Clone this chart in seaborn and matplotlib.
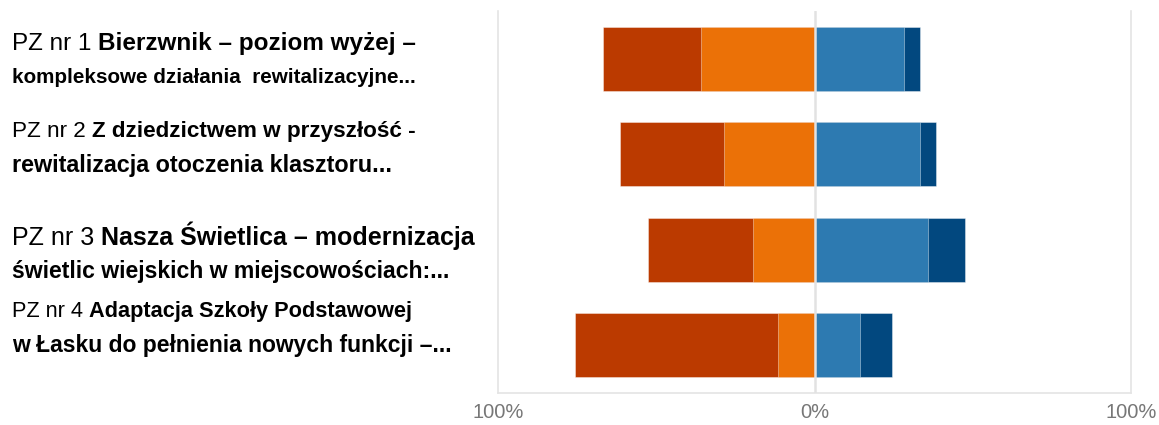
"""Diverging stacked bar chart of opinions on the PZ projects."""


# Import libraries
import matplotlib
matplotlib.use('Agg')
import matplotlib.pyplot as plt
from matplotlib import font_manager
import pandas as pd
import seaborn as sns


# Data (% of answers)
projects = ['PZ nr 1', 'PZ nr 2', 'PZ nr 3', 'PZ nr 4']
strongly_neg = [30.7, 33.0, 33.0, 64.3]
neg = [36.0, 28.5, 19.5, 11.4]
pos = [28.3, 33.3, 36.0, 14.4]
strongly_pos = [5.0, 5.1, 11.4, 10.0]

tick_values = [-100, 0, 100]
tick_labels = ['100%', '0%', '100%']

# Category labels: lines made of (text, bold) pieces
label_lines = [
    [[('PZ nr 1', False), ('Bierzwnik – poziom wyżej –', True)],
     [('kompleksowe działania  rewitalizacyjne...', True)]],
    [[('PZ nr 2', False), ('Z dziedzictwem w przyszłość -', True)],
     [('rewitalizacja otoczenia klasztoru...', True)]],
    [[('PZ nr 3', False), ('Nasza Świetlica – modernizacja', True)],
     [('świetlic wiejskich w miejscowościach:...', True)]],
    [[('PZ nr 4', False), ('Adaptacja Szkoły Podstawowej', True)],
     [('w Łasku do pełnienia nowych funkcji –...', True)]],
]

# Layout of the label lines in pixels: baseline y and right end x
line_baselines = [50, 83, 137, 172, 245, 278, 317, 352]
line_ends = [415, 415, 415, 392, 512, 450, 412, 452]

colors = {'strongly_neg': '#BB3A00', 'neg': '#EB7107',
          'pos': '#2D7AB1', 'strongly_pos': '#02487F'}


sns.set_style('white')
plt.rcParams['font.family'] = ['Liberation Sans', 'DejaVu Sans']
installed = {f.name for f in font_manager.fontManager.ttflist}
narrow_font = 'Liberation Sans Narrow' if 'Liberation Sans Narrow' in installed else None

df = pd.DataFrame({'project': projects,
                   'left_total': [-(a + b) for a, b in zip(strongly_neg, neg)],
                   'left_inner': [-b for b in neg],
                   'right_total': [a + b for a, b in zip(pos, strongly_pos)],
                   'right_inner': pos})

fig = plt.figure(figsize=(11.59, 4.25), dpi=100)
ax = fig.add_axes([498 / 1159, 32 / 425, 633 / 1159, 382 / 425])

# Overlapping bars build the stacks: totals first, inner parts on top
edge = (1, 1, 1, 0.45)
for col, key in [('left_total', 'strongly_neg'), ('left_inner', 'neg'),
                 ('right_total', 'strongly_pos'), ('right_inner', 'pos')]:
    sns.barplot(data=df, x=col, y='project', order=projects, color=colors[key],
                width=0.667, edgecolor=edge, linewidth=0.6, saturation=1, ax=ax)

ax.axvline(0, color='#e2e2e2', lw=1.8, zorder=5)
ax.set_xlim(-100, 100)
ax.set_ylim(3.5, -0.5)
ax.set_xlabel('')
ax.set_ylabel('')
ax.set_yticks([])
ax.set_xticks(tick_values)
ax.set_xticklabels(tick_labels, fontsize=14.5, color='#777777')
ax.tick_params(axis='x', length=0, pad=7)
for side in ['left', 'right', 'bottom']:
    ax.spines[side].set_color('#e4e4e4')
    ax.spines[side].set_linewidth(1.2)
ax.spines['top'].set_visible(False)


# Draw the labels piece by piece, fitting each line to its width in the reference
renderer = fig.canvas.get_renderer()
W, H = fig.bbox.width, fig.bbox.height
x0 = 12
lines = [line for block in label_lines for line in block]


def place(texts, size):
    x = x0
    gap = 0.28 * size * fig.dpi / 72
    for t in texts:
        t.set_fontsize(size)
        t.set_x(x / W)
        x += t.get_window_extent(renderer).width + gap
    return x - gap - x0


for pieces, y_px, x_end in zip(lines, line_baselines, line_ends):
    texts = [fig.text(0, 1 - y_px / H, txt, va='baseline', color='black',
                      fontweight='bold' if b else 'normal') for txt, b in pieces]
    size = 16
    factor = (x_end - x0) / place(texts, size)
    if factor < 0.88 and narrow_font:
        for t in texts:
            t.set_family([narrow_font, 'DejaVu Sans'])
        factor = (x_end - x0) / place(texts, size)
    size = min(max(size * factor, 12.5), 18)
    place(texts, size)

fig.savefig('out.png', dpi=100)
